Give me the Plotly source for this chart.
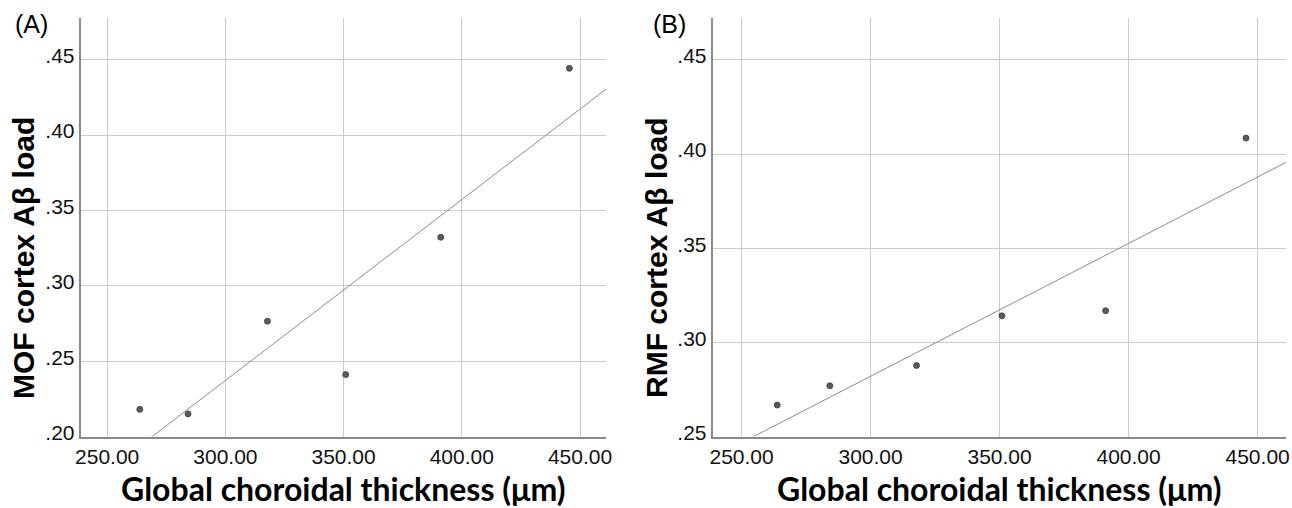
import numpy as np
import plotly.graph_objects as go

W, H = 1292, 508

# Data
thickness = [263.8, 284.2, 317.8, 350.9, 391.1, 445.5]
mof_load = [0.218, 0.215, 0.2765, 0.2411, 0.3322, 0.4443]
rmf_load = [0.2667, 0.2769, 0.2877, 0.3141, 0.3168, 0.4085]

x_ticks = [250, 300, 350, 400, 450]
ya_ticks = [0.20, 0.25, 0.30, 0.35, 0.40, 0.45]
ya_text = [".20", ".25", ".30", ".35", ".40", ".45"]
yb_ticks = [0.25, 0.30, 0.35, 0.40, 0.45]
yb_text = [".25", ".30", ".35", ".40", ".45"]

x_title = "Global choroidal thickness (μm)"
ya_title = "MOF cortex Aβ load"
yb_title = "RMF cortex Aβ load"

x_range = [238.8, 461.0]
ya_range = [0.20, 0.4777]
yb_range = [0.25, 0.4723]

# pixel layout helpers
def px(x):
    return x / W

def py(y):
    return 1 - y / H

top_px, bot_px = 18.0, 436.5
a_l, a_r = 80.7, 606.0
b_l, b_r = 712.7, 1286.0

fig = go.Figure()

for xa, ya, vals in [("x", "y", mof_load), ("x2", "y2", rmf_load)]:
    slope, intercept = np.polyfit(thickness, vals, 1)
    xs = np.array(x_range)
    fig.add_trace(go.Scatter(x=xs, y=slope * xs + intercept, mode="lines",
                             line=dict(color="#8c8c8c", width=1),
                             xaxis=xa, yaxis=ya, hoverinfo="skip", showlegend=False))
    fig.add_trace(go.Scatter(x=thickness, y=vals, mode="markers",
                             marker=dict(color="#5a5a5a", size=6,
                                         line=dict(color="#3c3c3c", width=0.8)),
                             xaxis=xa, yaxis=ya, showlegend=False))

tickfont = dict(family="Liberation Sans, Arial", size=21, color="#111111")
common_x = dict(range=x_range, tickvals=x_ticks, tickformat=".2f", showgrid=True,
                gridcolor="#cacaca", gridwidth=1, zeroline=False, showline=True,
                linecolor="#8a8a8a", linewidth=2, ticks="", tickfont=tickfont,
                automargin=False, fixedrange=True)
common_y = dict(showgrid=True, gridcolor="#cacaca", gridwidth=1, zeroline=False,
                showline=True, linecolor="#8a8a8a", linewidth=2, ticks="",
                tickfont=tickfont, automargin=False, ticklabelshift=-4)

fig.update_layout(
    width=W, height=H,
    margin=dict(l=0, r=0, t=0, b=0),
    paper_bgcolor="white", plot_bgcolor="white",
    xaxis=dict(domain=[px(a_l), px(a_r)], anchor="y", **common_x),
    xaxis2=dict(domain=[px(b_l), px(b_r)], anchor="y2", **common_x),
    yaxis=dict(domain=[py(bot_px), py(top_px)], anchor="x", range=ya_range,
               tickvals=ya_ticks, ticktext=ya_text, **common_y),
    yaxis2=dict(domain=[py(bot_px), py(top_px)], anchor="x2", range=yb_range,
                tickvals=yb_ticks, ticktext=yb_text, **common_y),
)

title_font = dict(family="Lato", size=32, color="#000000")
ytitle_font = dict(family="Liberation Sans, Arial", size=30, color="#000000")
annots = [
    dict(text="<b>" + x_title + "</b>", x=px((a_l + a_r) / 2), y=py(488),
         xanchor="center", yanchor="middle", font=title_font),
    dict(text="<b>" + x_title + "</b>", x=px((b_l + b_r) / 2), y=py(488),
         xanchor="center", yanchor="middle", font=title_font),
    dict(text="<b>" + ya_title + "</b>", x=px(23), y=py(258), textangle=-90,
         xanchor="center", yanchor="middle", font=ytitle_font),
    dict(text="<b>" + yb_title + "</b>", x=px(656), y=py(258), textangle=-90,
         xanchor="center", yanchor="middle", font=ytitle_font),
    dict(text="(A)", x=px(13), y=py(8), xanchor="left", yanchor="top",
         font=dict(family="Liberation Sans, Arial", size=25, color="#000000")),
    dict(text="(B)", x=px(651), y=py(8), xanchor="left", yanchor="top",
         font=dict(family="Liberation Sans, Arial", size=25, color="#000000")),
]
for a in annots:
    a.update(xref="paper", yref="paper", showarrow=False)
fig.update_layout(annotations=annots)

fig.write_html("out.html", config={"displayModeBar": False},
               post_script="document.body.style.margin='0px';document.body.style.padding='0px';")
